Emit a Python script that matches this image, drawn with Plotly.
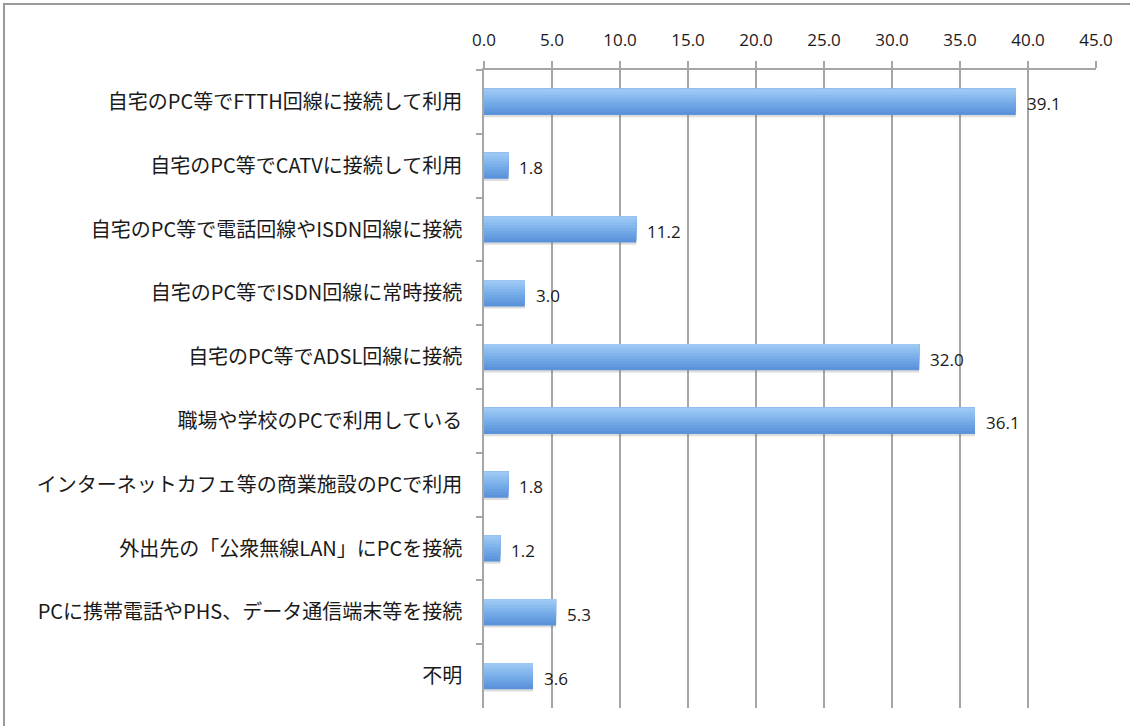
import plotly.graph_objects as go

# Internet connection methods (percent)
categories = [
    "自宅のPC等でFTTH回線に接続して利用",
    "自宅のPC等でCATVに接続して利用",
    "自宅のPC等で電話回線やISDN回線に接続",
    "自宅のPC等でISDN回線に常時接続",
    "自宅のPC等でADSL回線に接続",
    "職場や学校のPCで利用している",
    "インターネットカフェ等の商業施設のPCで利用",
    "外出先の「公衆無線LAN」にPCを接続",
    "PCに携帯電話やPHS、データ通信端末等を接続",
    "不明",
]
values = [39.1, 1.8, 11.2, 3.0, 32.0, 36.1, 1.8, 1.2, 5.3, 3.6]
x_ticks = [0, 5, 10, 15, 20, 25, 30, 35, 40, 45]

W, H = 1130, 726
ML, MR, MT, MB = 484, 34, 70, 18
NUM_FONT = "Open Sans, Liberation Sans, sans-serif"

fig = go.Figure()

# Layered bars give a vertical light-to-dark gradient
bar_w = 0.41
shades = ["#5b93db", "#6299df", "#69a0e2", "#71a7e6", "#79aee9", "#82b5ec", "#8bbcef", "#94c2f1", "#9dc8f3"]
n = len(shades)
# soft drop shadow
fig.add_trace(go.Bar(
    y=categories, x=values, orientation="h",
    width=bar_w, offset=-bar_w / 2 + 0.035,
    marker=dict(color="rgba(120,120,120,0.25)", line=dict(width=0)),
    hoverinfo="skip", showlegend=False,
))
for i, c in enumerate(shades):
    w = bar_w * (1 - i / n)
    fig.add_trace(go.Bar(
        y=categories, x=values, orientation="h",
        width=w, offset=-bar_w / 2,
        marker=dict(color=c, line=dict(width=0)),
        hoverinfo="skip", showlegend=False,
    ))

for cat, v in zip(categories, values):
    fig.add_annotation(
        x=v, y=cat, text=f"{v:.1f}", showarrow=False,
        xanchor="left", yanchor="middle", xshift=9, yshift=-2,
        font=dict(family=NUM_FONT, size=17, color="#1a1a1a"),
    )

fig.update_layout(
    width=W, height=H,
    margin=dict(l=ML, r=MR, t=MT, b=MB),
    paper_bgcolor="white", plot_bgcolor="white",
    barmode="overlay", showlegend=False,
    xaxis=dict(
        side="top", range=[0, 45], tickvals=x_ticks,
        ticktext=[f"{t:.1f}" for t in x_ticks],
        showgrid=True, gridcolor="#a6a6a6", gridwidth=1.5,
        showline=True, linecolor="#a6a6a6", linewidth=1.5,
        ticks="outside", ticklen=7, tickcolor="#a6a6a6", tickwidth=1.5,
        zeroline=False, fixedrange=True, ticklabelstandoff=8,
        tickfont=dict(family=NUM_FONT, size=17, color="#1a1a1a"),
    ),
    yaxis=dict(
        type="category", categoryorder="array", categoryarray=categories,
        autorange="reversed", tickson="boundaries",
        showline=True, linecolor="#a6a6a6", linewidth=1.5,
        ticks="outside", ticklen=6, tickcolor="#a6a6a6", tickwidth=1.5,
        showgrid=False, fixedrange=True, ticklabelstandoff=16,
        tickfont=dict(family="Noto Sans CJK JP, sans-serif", size=20, color="#1a1a1a"),
    ),
)

# outer frame of the chart
fig.add_shape(
    type="rect", xref="paper", yref="paper",
    x0=(4 - ML) / (W - ML - MR), x1=(W + 10 - ML) / (W - ML - MR),
    y0=-(H + 10 - (H - MB)) / (H - MT - MB), y1=1 + (MT - 4) / (H - MT - MB),
    line=dict(color="#9a9a9a", width=2), layer="below",
)

fig.write_html("out.html")
